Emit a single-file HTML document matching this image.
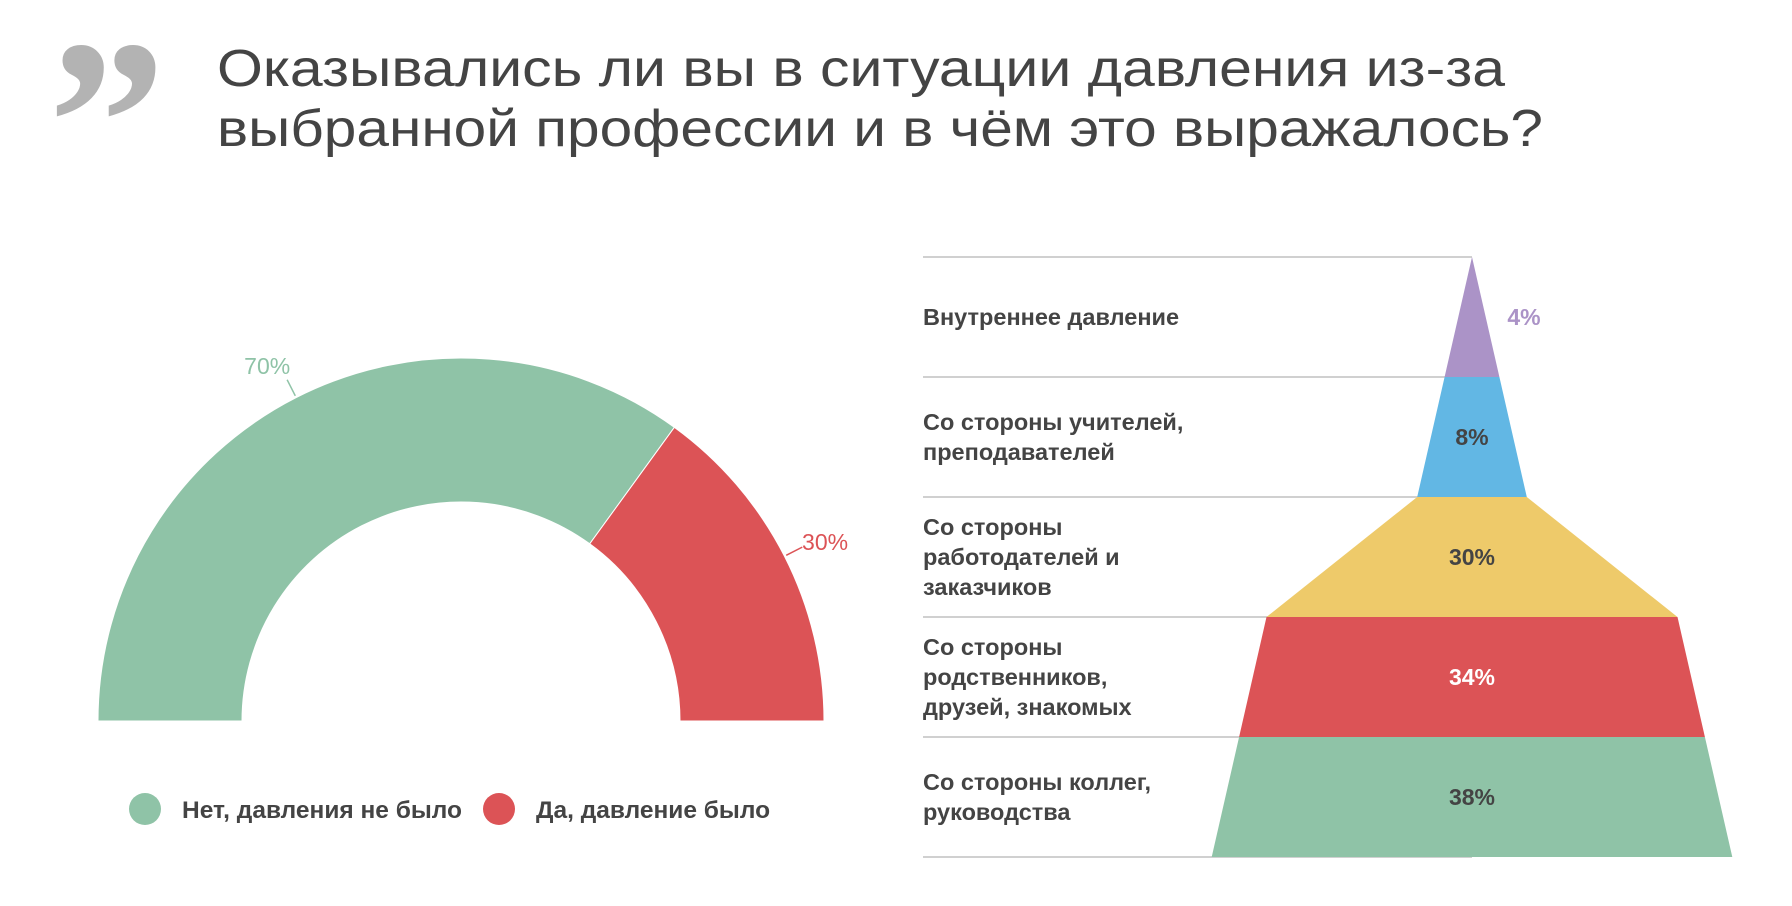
<!DOCTYPE html>
<html><head><meta charset="utf-8"><style>
html,body{margin:0;padding:0;background:#fff}
svg{display:block;font-family:"Liberation Sans",sans-serif}
</style></head><body>
<svg id="root" width="1792" height="906" viewBox="0 0 1792 906">
<g fill="#b3b3b3">
<text x="48" y="202" font-size="236" font-family="Liberation Serif,serif" font-weight="bold">”</text>
</g>
<text x="217" y="86" font-size="52" fill="#444" textLength="1288" lengthAdjust="spacingAndGlyphs">Оказывались ли вы в ситуации давления из-за</text>
<text x="217" y="146" font-size="52" fill="#444" textLength="1326" lengthAdjust="spacingAndGlyphs">выбранной профессии и в чём это выражалось?</text>
<g id="donut"></g>
<g id="legend">
<circle cx="145" cy="809" r="16" fill="#8fc3a7"/>
<text x="182" y="818" font-size="24.5" font-weight="bold" fill="#444">Нет, давления не было</text>
<circle cx="499" cy="809" r="16" fill="#dc5356"/>
<text x="536" y="818" font-size="24.5" font-weight="bold" fill="#444">Да, давление было</text>
</g>
<g id="funnel"></g>
</svg>
<script>
const donutCategories = ["Нет, давления не было", "Да, давление было"];
const donutValues = [70, 30];
const donutColors = ["#8fc3a7", "#dc5356"];
const funnelCategories = [["Внутреннее давление"],["Со стороны учителей,","преподавателей"],["Со стороны","работодателей и","заказчиков"],["Со стороны","родственников,","друзей, знакомых"],["Со стороны коллег,","руководства"]];
const funnelValues = [4, 8, 30, 34, 38];
const funnelColors = ["#ab93c7","#62b7e4","#eeca6a","#dc5356","#8fc3a7"];
const funnelTextColors = ["#ab93c7","#444","#444","#fff","#444"];

const NS="http://www.w3.org/2000/svg";
function mk(tag,attrs,parent){const e=document.createElementNS(NS,tag);for(const k in attrs)e.setAttribute(k,attrs[k]);parent.appendChild(e);return e;}

// donut
const dg=document.getElementById('donut');
const cx=461,cy=721,R=363,r=219;
const total=donutValues.reduce((a,b)=>a+b,0);
let start=Math.PI;
donutValues.forEach((v,i)=>{
  const end=start-Math.PI*v/total;
  const p=(a,rad)=>[cx+rad*Math.cos(a),cy-rad*Math.sin(a)];
  const [x1,y1]=p(start,R),[x2,y2]=p(end,R),[x3,y3]=p(end,r),[x4,y4]=p(start,r);
  const path=mk('path',{d:`M${x1},${y1} A${R},${R} 0 0 1 ${x2},${y2} L${x3},${y3} A${r},${r} 0 0 0 ${x4},${y4} Z`,fill:donutColors[i],stroke:'#fff','stroke-width':1},dg);
  
  
  const mid=(start+end)/2;
  const [lx1,ly1]=p(mid,R+2),[lx2,ly2]=p(mid,R+20);
  const ln=mk('line',{x1:lx1,y1:ly1,x2:lx2,y2:ly2,stroke:donutColors[i],'stroke-width':1.5},dg);
  
  
  const right=Math.cos(mid)>=0;
  const [tx,ty]=p(mid,R+22);
  const t=mk('text',{x:tx+(right?-2:4),y:ty+(right?4:-4),'font-size':23,fill:donutColors[i],'text-anchor':right?'start':'end'},dg);
  t.textContent=donutValues[i]+'%';
  
  
  start=end;
});

// funnel
const fg=document.getElementById('funnel');
const fx=1472,top0=257,rowH=120,scale=13.7;
for(let i=0;i<=funnelValues.length;i++){
  const y=top0+i*rowH;
  const ln=mk('line',{x1:923,x2:fx,y1:y,y2:y,stroke:'#d0d0d0','stroke-width':2},fg);
  
  
}
let prevW=0;
funnelValues.forEach((v,i)=>{
  const w=v*scale,y0=top0+i*rowH,y1=y0+rowH;
  const pg=mk('polygon',{points:`${fx-prevW/2},${y0} ${fx+prevW/2},${y0} ${fx+w/2},${y1} ${fx-w/2},${y1}`,fill:funnelColors[i]},fg);
  
  
  const yc=y0+rowH/2;
  const outside=v<6;
  const t=mk('text',{x:outside?fx+w/2+8:fx,y:yc+8,'font-size':23,'font-weight':'bold',fill:funnelTextColors[i],'text-anchor':outside?'start':'middle'},fg);
  t.textContent=v+'%';
  
  
  const lines=funnelCategories[i];
  const lh=30;
  const lt=mk('text',{x:923,'font-size':23.5,'font-weight':'bold',fill:'#444'},fg);
  
  
  lines.forEach((s,j)=>{
    const ts=mk('tspan',{x:923,y:yc+8+(j-(lines.length-1)/2)*lh},lt);
    ts.textContent=s;
  });
  prevW=w;
});
</script>
</body></html>
